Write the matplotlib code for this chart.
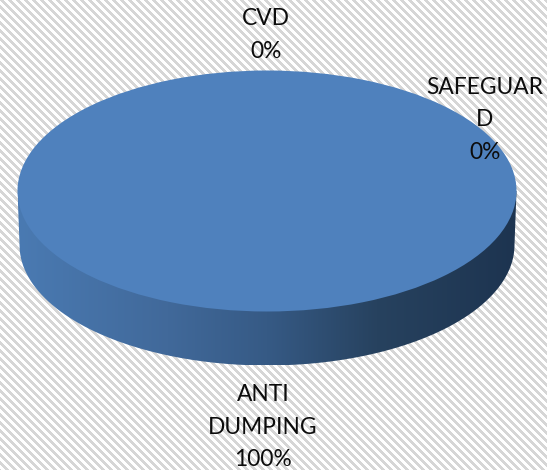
import numpy as np
import matplotlib
matplotlib.use("Agg")
import matplotlib.pyplot as plt
from matplotlib.patches import PathPatch
from matplotlib.path import Path
from matplotlib.colors import LinearSegmentedColormap

categories = ["ANTI\nDUMPING", "CVD", "SAFEGUAR\nD"]
values = [100, 0, 0]
shares = ["100%", "0%", "0%"]

W, H = 547, 470
plt.rcParams["font.family"] = ["Lato", "DejaVu Sans"]

fig = plt.figure(figsize=(W / 100, H / 100), dpi=100)

# striped background, in pixel coordinates
bg = fig.add_axes([0, 0, 1, 1], zorder=0)
yy, xx = np.mgrid[0:H, 0:W]
stripes = ((xx - yy) % 8) < 4
bg.imshow(stripes, cmap=LinearSegmentedColormap.from_list("bg", ["#ffffff", "#d6d6d6"]),
          extent=(0, W, H, 0), interpolation="bilinear", aspect="auto", zorder=0)
bg.axis("off")

# side wall of the disc
cx, cy, a, b = 267, 191, 249.5, 120.5
depth = 54
side = np.linspace(0, 1, 256).reshape(1, -1)
cmap = LinearSegmentedColormap.from_list(
    "side", [(0, "#4a7ab2"), (0.3, "#41699a"), (0.5, "#365a85"), (0.72, "#27425f"), (1, "#1d3450")])
img = bg.imshow(side, cmap=cmap, extent=(cx - a, cx + a, cy + depth + b, cy), aspect="auto", zorder=1)
t = np.linspace(np.pi, 0, 200)
verts = np.column_stack([cx + (a - 2) * np.cos(t), cy + depth + b * np.sin(t)])
verts = np.vstack([[cx - a, cy], verts, [cx + a, cy], [cx - a, cy]])
wall = PathPatch(Path(verts), transform=bg.transData, fc="none", ec="none")
bg.add_patch(wall)
img.set_clip_path(wall)
bg.set_xlim(0, W)
bg.set_ylim(H, 0)

# the top of the disc is a squashed pie
ax = fig.add_axes([(cx - a) / W, 1 - (cy + b) / H, 2 * a / W, 2 * b / H], zorder=1)
ax.pie(values, colors=["#4f81bd", "#c0504d", "#9bbb59"], radius=1, startangle=90)
ax.set_aspect("auto")
ax.set_xlim(-1, 1)
ax.set_ylim(-1, 1)
ax.patch.set_visible(False)

# labels sit over the pie
over = fig.add_axes([0, 0, 1, 1], zorder=2)
over.set_xlim(0, W)
over.set_ylim(H, 0)
over.axis("off")
names = [f"{c}\n{s}" for c, s in zip(categories, shares)]
pos = [(263, 427), (266, 35), (485, 120)]
for (x, y), s in zip(pos, names):
    over.text(x, y, s, ha="center", va="center", fontsize=16.4, color="#0c0c0c", linespacing=1.7)

fig.savefig("out.png", dpi=100)
